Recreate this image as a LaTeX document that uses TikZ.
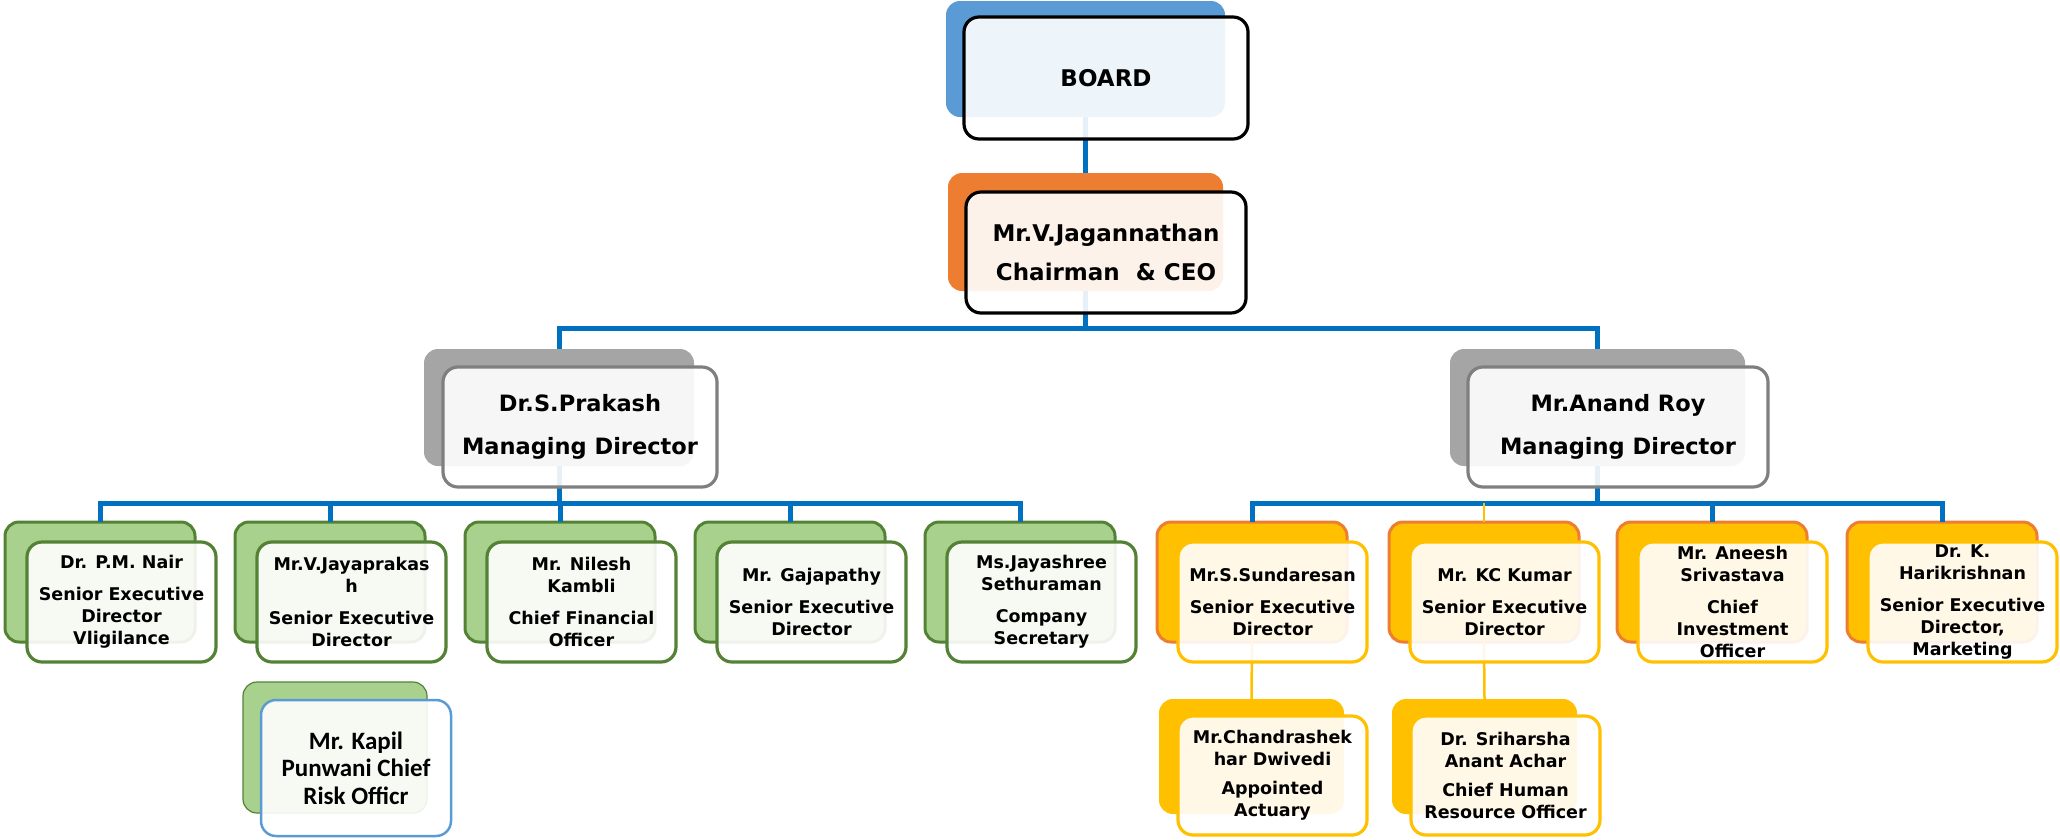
\documentclass[tikz,border=0pt]{standalone}
\usepackage{fontspec}
\setmainfont{DejaVu Sans}
\newfontfamily\calib{Carlito}
\definecolor{cblue}{HTML}{0070C0}
\definecolor{bfill}{HTML}{5B9BD5}
\definecolor{ofill}{HTML}{ED7D31}
\definecolor{gyfill}{HTML}{A5A5A5}
\definecolor{gyline}{HTML}{7F7F7F}
\definecolor{gfill}{HTML}{A9D18E}
\definecolor{gline}{HTML}{548235}
\definecolor{yfill}{HTML}{FFC000}
\tikzset{
  conn/.style={draw=cblue, line width=5pt},
  yconn/.style={draw=yfill, line width=2.5pt},
  bk/.style={rounded corners=14pt, inner sep=0pt, outer sep=0pt, anchor=north west},
  fr/.style={rounded corners=15pt, fill=white, fill opacity=0.9, text opacity=1, line width=3.2pt,
    inner sep=0pt, outer sep=0pt, anchor=north west, align=center},
  topfont/.style={font=\fontsize{23}{39}\selectfont\bfseries},
  mdfont/.style={font=\fontsize{22.5}{43}\selectfont\bfseries},
  smfont/.style={font=\fontsize{17.5}{22}\selectfont\bfseries},
  gback/.style={bk, fill=gfill, draw=gline, line width=3pt, minimum width=190pt, minimum height=120pt},
  gfront/.style={fr, draw=gline, smfont, minimum width=189pt, minimum height=120pt},
  oback/.style={bk, fill=yfill, draw=ofill, line width=3pt, minimum width=190pt, minimum height=120pt},
  ofront/.style={fr, draw=yfill, smfont, minimum width=189pt, minimum height=120pt},
  yback/.style={bk, fill=yfill, minimum width=185pt, minimum height=115pt},
  yfront/.style={fr, draw=yfill, smfont, minimum width=189pt, minimum height=119pt},
}
\begin{document}
\begin{tikzpicture}[x=1pt,y=-1pt]
\useasboundingbox (0,0) rectangle (2060,839);
% back shapes
\node[bk, fill=bfill, minimum width=279pt, minimum height=116pt] (boardB) at (946,1) {};
\node[bk, fill=ofill, minimum width=275pt, minimum height=118pt] (ceoB) at (948,173) {};
\node[bk, fill=gyfill, minimum width=270pt, minimum height=117pt] (prB) at (424,349) {};
\node[bk, fill=gyfill, minimum width=295pt, minimum height=117pt] (arB) at (1450,349) {};
\node[gback] (nairB) at (5,522) {};
\node[gback] (jayB) at (235,522) {};
\node[gback] (nilB) at (465,522) {};
\node[gback] (gajB) at (695,522) {};
\node[gback] (jshB) at (925,522) {};
\node[oback] (sunB) at (1157,522) {};
\node[oback] (kcB) at (1389,522) {};
\node[oback] (aneB) at (1617,522) {};
\node[oback] (hariB) at (1847,522) {};
\node[bk, fill=gfill, draw=gline, line width=1.2pt, minimum width=184pt, minimum height=131pt] (kapB) at (243,682) {};
\node[yback] (chaB) at (1159,699) {};
\node[yback] (sriB) at (1392,699) {};
% connectors
\draw[conn] (boardB.south) -- (ceoB.north);
\draw[conn] (ceoB.south) -- ++(0,37) -| (prB.north);
\draw[conn] (ceoB.south) -- ++(0,37) -| (arB.north);
\foreach \n in {nairB,jayB,nilB,gajB,jshB}
  \draw[conn] (prB.south) -- ++(0,37) -| (\n.north);
\foreach \n in {sunB,aneB,hariB}
  \draw[conn] (arB.south) -- ++(0,37) -| (\n.north);
\draw[yconn] (kcB.north) -- ++(0,-19);
\draw[yconn] (sunB.south) -- (chaB.north);
\draw[yconn] (kcB.south) -- (sriB.north);
% front boxes
\node[fr, draw=black, topfont, minimum width=284pt, minimum height=122pt] (board) at (964,17) {BOARD};
\node[fr, draw=black, topfont, minimum width=280pt, minimum height=121pt] (ceo) at (966,192) {Mr.V.Jagannathan\\Chairman\ \ \& CEO};
\node[fr, draw=gyline, mdfont, minimum width=274pt, minimum height=120pt] (pr) at (443,367) {Dr.S.Prakash\\Managing Director};
\node[fr, draw=gyline, mdfont, minimum width=300pt, minimum height=120pt] (ar) at (1468,367) {Mr.Anand Roy\\Managing Director};
\node[gfront] (nair) at (27,542) {Dr. P.M. Nair\\[10pt]Senior Executive\\Director\\Vligilance};
\node[gfront] (jay) at (257,542) {Mr.V.Jayaprakas\\h\\[10pt]Senior Executive\\Director};
\node[gfront] (nil) at (487,542) {Mr. Nilesh\\Kambli\\[10pt]Chief Financial\\Officer};
\node[gfront] (gaj) at (717,542) {Mr. Gajapathy\\[10pt]Senior Executive\\Director};
\node[gfront] (jsh) at (947,542) {Ms.Jayashree\\Sethuraman\\[10pt]Company\\Secretary};
\node[ofront] (sun) at (1178,542) {Mr.S.Sundaresan\\[10pt]Senior Executive\\Director};
\node[ofront] (kc) at (1410,542) {Mr. KC Kumar\\[10pt]Senior Executive\\Director};
\node[ofront] (ane) at (1638,542) {Mr. Aneesh\\Srivastava\\[10pt]Chief\\Investment\\Officer};
\node[ofront] (hari) at (1868,542) {Dr. K.\\Harikrishnan\\[10pt]Senior Executive\\Director,\\Marketing};
\node[fr, draw=bfill, line width=2.5pt, font=\calib\fontsize{25}{27.5}\selectfont\bfseries, minimum width=190pt, minimum height=136pt] (kap) at (261,700) {Mr. Kapil\\Punwani Chief\\Risk Officr};
\node[yfront] (cha) at (1178,716) {Mr.Chandrashek\\har Dwivedi\\[7pt]Appointed\\Actuary};
\node[yfront] (sri) at (1411,716) {Dr. Sriharsha\\Anant Achar\\[7pt]Chief Human\\Resource Officer};
\end{tikzpicture}
\end{document}
